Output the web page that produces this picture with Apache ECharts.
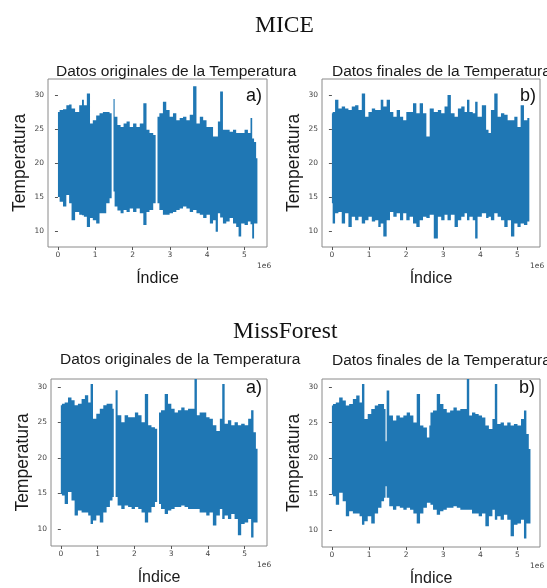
<!DOCTYPE html>
<html>
<head>
<meta charset="utf-8">
<script src="https://cdn.jsdelivr.net/npm/echarts@6/dist/echarts.min.js"></script>
<style>
  html, body { margin: 0; padding: 0; background: #fff; }
  #chart { width: 547px; height: 588px; }
</style>
</head>
<body>
<div id="chart"></div>
<script>
// index positions are in millions (axis shows the "1e6" offset text)
const xTicks = [0, 1, 2, 3, 4, 5];
const yTicks = [10, 15, 20, 25, 30];

// MICE a) original data: upper / lower envelope, null = missing block
const xsMiceOrig = [0.00,0.09,0.18,0.27,0.33,0.40,0.52,0.62,0.67,0.72,0.83,0.89,0.98,1.07,1.16,1.25,1.34,1.43,1.46,1.49,
  1.55,1.64,1.72,1.80,1.88,1.97,2.06,2.15,2.24,2.34,2.41,2.50,2.61,2.64,2.67,2.77,2.86,2.95,3.04,3.13,
  3.22,3.31,3.40,3.49,3.58,3.67,3.76,3.85,3.94,4.03,4.12,4.20,4.26,4.32,4.38,4.47,4.56,4.65,4.74,4.82,
  4.87,4.96,5.05,5.14,5.19,5.23,5.29,5.34];
const upMiceOrig = [27.5,27.8,27.9,28.5,28.6,28.0,27.5,28.5,29.3,28.5,30.2,25.8,26.3,27.0,27.3,27.5,27.5,27.3,null,29.4,
  26.8,25.6,25.3,25.8,26.1,25.3,25.8,25.3,25.8,28.8,24.9,24.4,24.1,null,26.8,27.3,29.0,27.8,26.8,27.3,
  26.3,26.6,26.8,26.3,27.1,31.3,25.8,26.8,26.3,25.3,25.3,23.9,23.9,26.1,30.5,24.9,24.9,24.6,24.9,24.4,
  24.4,24.4,24.9,24.4,26.6,23.6,23.1,20.7];
const loMiceOrig = [15.0,14.3,13.6,15.3,14.1,11.6,12.8,12.4,12.3,12.1,10.6,11.9,11.6,11.1,12.6,12.6,14.1,14.8,null,15.8,
  13.6,13.0,12.6,13.1,12.8,13.3,12.8,13.3,12.6,10.9,12.8,13.1,14.1,null,14.1,13.1,12.4,12.4,12.6,12.8,
  13.1,13.3,13.6,13.3,12.8,13.1,12.6,12.4,11.9,12.4,11.1,11.6,9.9,12.6,12.0,11.1,11.4,11.9,11.1,10.6,
  9.2,11.1,10.9,11.4,11.0,8.9,11.1,11.1];

// MICE b) final data
const xsMiceFinal = [0.00,0.04,0.13,0.22,0.31,0.40,0.49,0.58,0.67,0.76,0.85,0.94,1.03,1.12,1.21,1.29,1.34,1.43,1.52,1.61,
  1.70,1.79,1.88,1.96,2.05,2.14,2.23,2.32,2.41,2.50,2.59,2.68,2.81,2.90,2.99,3.08,3.15,3.26,3.35,3.44,
  3.53,3.62,3.66,3.75,3.84,3.88,3.97,4.11,4.20,4.24,4.33,4.42,4.51,4.60,4.69,4.78,4.87,4.96,5.04,5.13,
  5.22,5.31];
const upMiceFinal = [27.3,27.5,29.3,28.0,28.3,28.0,27.8,28.3,28.5,27.8,30.2,26.8,27.5,28.0,27.8,27.8,29.3,28.3,29.3,27.5,
  26.8,27.8,26.8,26.3,27.5,27.5,28.8,27.3,28.8,27.3,23.9,28.0,27.5,27.8,27.3,28.3,30.0,27.3,26.8,28.0,
  28.3,27.5,29.3,27.5,27.3,29.0,26.8,28.5,24.9,24.4,27.8,30.2,26.8,27.3,27.1,26.3,26.3,26.8,25.3,28.5,
  26.3,26.6];
const loMiceFinal = [14.1,11.1,12.6,12.8,11.1,12.6,10.6,12.1,11.6,12.1,11.1,11.6,12.1,11.4,11.6,10.6,11.1,9.2,11.6,12.8,
  12.1,12.6,11.6,12.6,11.6,12.1,11.1,10.6,11.6,12.1,11.9,12.4,8.9,12.1,11.6,12.4,11.6,12.4,10.6,11.6,
  12.1,12.6,11.6,12.1,11.6,8.9,12.1,12.6,11.9,12.1,11.6,12.6,12.1,11.6,10.6,11.6,9.2,11.1,10.6,11.1,
  10.9,11.4];

// MissForest a) original and b) final data (same index positions)
const xsMiss = [0.00,0.06,0.15,0.24,0.34,0.41,0.52,0.61,0.70,0.79,0.83,0.92,1.01,1.11,1.20,1.29,1.38,1.43,1.46,1.49,
  1.60,1.69,1.78,1.88,1.97,2.06,2.15,2.24,2.33,2.42,2.51,2.61,2.64,2.67,2.78,2.87,2.96,3.05,3.14,3.23,
  3.32,3.41,3.51,3.60,3.67,3.73,3.82,3.91,4.00,4.09,4.18,4.28,4.37,4.41,4.50,4.59,4.68,4.77,4.86,4.95,
  5.05,5.14,5.21,5.27,5.34];
const upMissOrig = [27.4,27.6,27.8,28.5,28.1,27.4,27.6,28.3,28.8,27.8,30.4,25.5,26.2,26.9,27.4,27.6,27.6,26.9,null,29.5,
  26.0,25.0,26.0,25.7,25.7,26.4,26.0,25.0,29.0,24.6,24.3,24.1,null,26.4,26.7,29.0,27.6,26.9,26.4,26.7,
  27.1,26.7,26.9,26.9,31.1,26.0,26.4,26.4,25.7,25.5,24.6,23.8,25.5,30.4,24.8,25.3,24.6,25.0,24.6,24.8,
  24.6,25.5,26.7,23.6,21.3];
const loMissOrig = [14.9,14.7,13.5,15.2,14.0,11.9,12.6,12.3,12.3,11.9,10.7,11.2,11.9,10.9,12.3,13.1,14.0,14.5,null,14.5,
  13.3,12.8,13.3,13.1,12.8,13.1,12.8,12.3,10.9,12.3,13.1,13.8,null,13.5,12.8,12.1,12.6,12.8,13.1,13.1,
  13.3,13.1,12.8,12.8,12.8,12.8,12.3,12.3,11.9,12.3,10.5,11.9,12.8,11.4,11.9,11.4,12.1,11.4,9.1,10.7,
  10.9,11.4,8.8,10.9,10.9];
const upMissFinal = [27.4,27.6,27.8,28.5,28.1,27.4,27.6,28.3,28.8,27.8,30.4,25.5,26.2,26.9,27.4,27.6,27.6,26.9,22.4,29.5,
  26.0,25.3,26.0,25.7,26.0,26.4,26.0,25.0,29.0,24.6,24.3,22.9,24.6,26.4,26.7,29.0,27.6,26.9,26.4,26.7,
  27.1,26.7,26.9,26.9,31.1,26.0,26.4,26.2,26.0,25.7,24.6,24.1,25.5,30.4,24.8,25.0,24.6,25.0,24.6,24.8,
  24.6,25.5,26.7,23.4,21.3];
const loMissFinal = [14.9,14.7,13.5,15.2,14.0,11.9,12.6,12.3,12.3,11.9,10.7,11.2,11.9,10.9,12.3,13.1,14.0,14.5,16.1,14.5,
  13.3,12.8,13.3,13.1,12.8,13.1,12.8,12.3,10.9,12.3,13.1,13.8,13.8,13.5,12.8,12.1,12.6,12.8,13.1,13.1,
  13.3,13.1,12.8,12.8,12.8,12.8,12.3,12.3,11.9,12.3,10.5,11.9,12.8,11.4,11.9,11.4,12.1,11.4,9.1,10.7,
  10.9,11.4,8.8,10.9,10.9];

const C = '#1f77b4';
const panels = [
  { xs: xsMiceOrig, up: upMiceOrig, lo: loMiceOrig, title: 'Datos originales de la Temperatura', tag: 'a)',
    grid: { left: 48, top: 79, width: 219, height: 168 }, y: [7.65, 32.35], titlePos: [51, 59], tagPos: [246, 87] },
  { xs: xsMiceFinal, up: upMiceFinal, lo: loMiceFinal, title: 'Datos finales de la Temperatura', tag: 'b)',
    grid: { left: 322, top: 79, width: 218, height: 168 }, y: [7.65, 32.35], titlePos: [327, 59], tagPos: [520, 87] },
  { xs: xsMiss, up: upMissOrig, lo: loMissOrig, title: 'Datos originales de la Temperatura', tag: 'a)',
    grid: { left: 51, top: 379, width: 216, height: 167 }, y: [7.6, 31.1], titlePos: [55, 347], tagPos: [246, 379] },
  { xs: xsMiss, up: upMissFinal, lo: loMissFinal, title: 'Datos finales de la Temperatura', tag: 'b)',
    grid: { left: 322, top: 379, width: 218, height: 168 }, y: [7.6, 31.1], titlePos: [327, 348], tagPos: [519, 379] }
];

// each reading becomes one column [x0, x1, lo, up, joined]; edges sit halfway to the neighbours
function toColumns(xs, up, lo) {
  const out = [];
  xs.forEach((x, k) => {
    if (up[k] == null) return;
    const prevOk = k > 0 && up[k - 1] != null;
    const nextOk = k < xs.length - 1 && up[k + 1] != null;
    const x0 = prevOk ? (xs[k - 1] + x) / 2 : x;
    const x1 = nextOk ? (xs[k + 1] + x) / 2 : x + 0.01;
    out.push([x0, x1, lo[k], up[k], nextOk ? 1 : 0]);
  });
  return out;
}

// the first item draws the whole band as stepped polygons (one per unbroken run) so no seams appear
function renderBand(params, api) {
  if (params.dataIndexInside !== 0) return null;
  const n = params.dataInsideLength;
  const children = [];
  let top = [], bottom = [];
  for (let k = 0; k < n; k++) {
    const x0 = api.value(0, k), x1 = api.value(1, k);
    const lo = api.value(2, k), up = api.value(3, k);
    top.push(api.coord([x0, up]), api.coord([x1, up]));
    bottom.push(api.coord([x0, lo]), api.coord([x1, lo]));
    if (!api.value(4, k) || k === n - 1) {
      children.push({
        type: 'polygon',
        shape: { points: top.concat(bottom.reverse()) },
        style: { fill: C }
      });
      top = [];
      bottom = [];
    }
  }
  return { type: 'group', children: children };
}

const chart = echarts.init(document.getElementById('chart'), null, { renderer: 'canvas' });

const grid = [], xAxis = [], yAxis = [], series = [], graphic = [];
const title = [
  { text: 'MICE', left: 250, top: 9, textStyle: { fontFamily: 'Liberation Serif', fontSize: 23.5, fontWeight: 'normal', color: '#111' } },
  { text: 'MissForest', left: 228, top: 315, textStyle: { fontFamily: 'Liberation Serif', fontSize: 23.5, fontWeight: 'normal', color: '#111' } }
];

panels.forEach((p, i) => {
  grid.push(Object.assign({ show: true, borderColor: '#8a8a8a', borderWidth: 1, containLabel: false }, p.grid));
  xAxis.push({
    type: 'value', gridIndex: i, min: -0.267, max: 5.607,
    name: 'Índice', nameLocation: 'middle', nameGap: 24,
    nameTextStyle: { fontFamily: 'Liberation Sans', fontSize: 16, color: '#1a1a1a' },
    axisLine: { show: false },
    axisTick: { show: true, length: 3, lineStyle: { color: '#555' }, customValues: xTicks },
    axisLabel: { fontFamily: 'DejaVu Sans', fontSize: 7.5, color: '#444', margin: 4, customValues: xTicks },
    splitLine: { show: false }
  });
  yAxis.push({
    type: 'value', gridIndex: i, min: p.y[0], max: p.y[1],
    name: 'Temperatura', nameLocation: 'middle', nameRotate: 90, nameGap: 19,
    nameTextStyle: { fontFamily: 'Liberation Sans', fontSize: 17.5, color: '#1a1a1a' },
    axisLine: { show: false },
    axisTick: { show: true, length: 3, lineStyle: { color: '#555' }, customValues: yTicks },
    axisLabel: { fontFamily: 'DejaVu Sans', fontSize: 7.5, color: '#444', margin: 4, customValues: yTicks },
    splitLine: { show: false }
  });
  series.push({
    type: 'custom', xAxisIndex: i, yAxisIndex: i, clip: true,
    data: toColumns(p.xs, p.up, p.lo),
    encode: { x: [0, 1], y: [2, 3] },
    itemStyle: { color: C },
    renderItem: renderBand, silent: true
  });
  title.push({
    text: p.title, left: p.titlePos[0], top: p.titlePos[1],
    textStyle: { fontFamily: 'Liberation Sans', fontSize: 15.5, fontWeight: 'normal', color: '#1a1a1a' }
  });
  graphic.push({
    type: 'text', left: p.tagPos[0], top: p.tagPos[1], z: 10,
    style: { text: p.tag, font: '18px "Liberation Sans"', fill: '#111' }
  });
  graphic.push({
    type: 'text', left: p.grid.left + p.grid.width - 10, top: p.grid.top + p.grid.height + 15, z: 10,
    style: { text: '1e6', font: '7.5px "DejaVu Sans"', fill: '#444' }
  });
});

chart.setOption({
  animation: false,
  title: title,
  grid: grid,
  xAxis: xAxis,
  yAxis: yAxis,
  series: series,
  graphic: graphic
});
</script>
</body>
</html>
